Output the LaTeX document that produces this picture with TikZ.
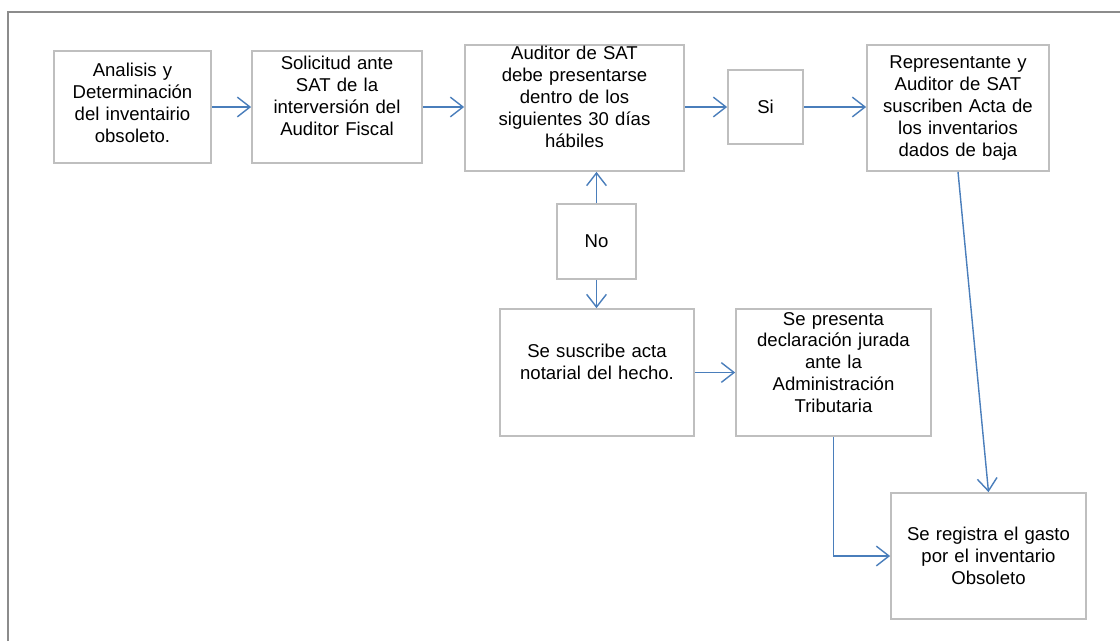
\documentclass[tikz,border=0pt]{standalone}
\usepackage{fontspec}
\setmainfont{Liberation Sans}
\usetikzlibrary{arrows.meta, positioning}
\definecolor{flowblue}{HTML}{4A7EBB}
\definecolor{boxgray}{HTML}{BFBFBF}
\definecolor{framegray}{HTML}{8C8C8C}
\newlength\pxu
\setlength\pxu{0.025cm}

\begin{document}
\begin{tikzpicture}[x=\pxu, y=-\pxu, every node/.style={align=center, font=\fontsize{13.2}{15.6}\selectfont},
  box/.style 2 args={draw=boxgray, line width=1.2pt, fill=white, inner sep=0pt,
    minimum width=#1, minimum height=#2, text width=#1-0.2cm},
  lift/.style={execute at end node={\endgraf\vspace{#1}}},
  flow/.style={draw=flowblue, line width=1pt, -{Straight Barb[length=9pt, width=14pt]}}]
\useasboundingbox (0,0) rectangle (1120,641);
\draw[framegray, line width=1.2pt] (8,641) -- (8,12) -- (1120,12); % outer frame
% first row
\node[box={3.925cm}{2.8cm}, lift=9\pxu] (analisis) at (132.5,107) {Analisis y\\Determinación\\del inventairio\\obsoleto.};
\node[box={4.25cm}{2.8cm}, lift=22\pxu] (solicitud) at (337,107) {Solicitud ante\\SAT de la\\interversión del\\Auditor Fiscal};
\node[box={5.475cm}{3.15cm}, lift=22\pxu] (auditor) at (574.5,108) {Auditor de SAT\\debe presentarse\\dentro de los\\siguientes 30 días\\hábiles};
\node[box={1.875cm}{1.85cm}] (si) at (765.5,107) {Si};
\node[box={4.55cm}{3.15cm}] (acta) at (958,108) {Representante y\\Auditor de SAT\\suscriben Acta de\\los inventarios\\dados de baja};
% lower part
\node[box={1.975cm}{1.875cm}, lift=-8\pxu] (no) at (596.5,241.5) {No};
\node[box={4.85cm}{3.175cm}, lift=22\pxu] (notarial) at (597,372.5) {Se suscribe acta\\notarial del hecho.};
\node[box={4.875cm}{3.175cm}, lift=20\pxu] (declaracion) at (833.5,372.5) {Se presenta\\declaración jurada\\ante la\\Administración\\Tributaria};
\node[box={4.875cm}{3.15cm}] (gasto) at (988.5,556) {Se registra el gasto\\por el inventario\\Obsoleto};

\draw[flow] (analisis) -- (solicitud);
\draw[flow] (solicitud.east) -- (auditor.west |- solicitud.east);
\draw[flow] (auditor.east |- si.west) -- (si.west);
\draw[flow] (si.east) -- (acta.west |- si.east);
\draw[flow] (no.north) -- (no.north |- auditor.south);
\draw[flow] (no.south) -- (no.south |- notarial.north);
\draw[flow] (notarial) -- (declaracion);
\draw[flow] (acta.south) -- (gasto.north);
\draw[flow] (declaracion.south) |- (gasto.west);
\end{tikzpicture}
\end{document}
